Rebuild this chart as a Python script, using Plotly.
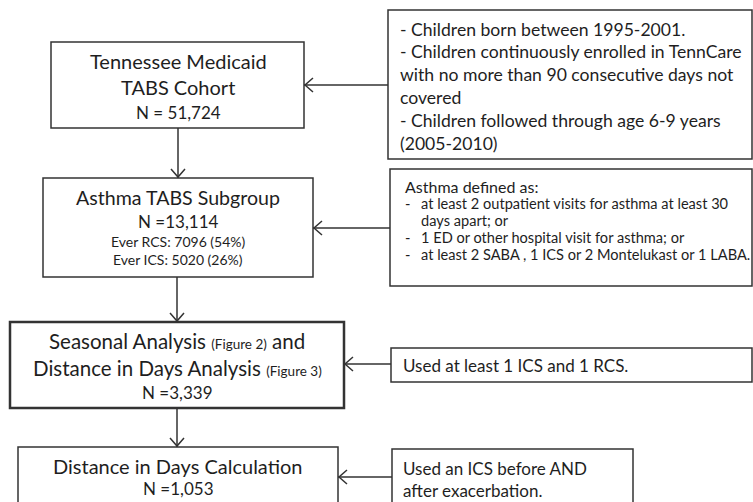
import plotly.graph_objects as go

# ---- content (data) ----
cohort_title = ["Tennessee Medicaid", "TABS Cohort"]
cohort_n = "N = 51,724"
subgroup_title = "Asthma TABS Subgroup"
subgroup_n = "N =13,114"
subgroup_ever = ["Ever RCS: 7096 (54%)", "Ever ICS: 5020 (26%)"]
seasonal_lines = [
    "Seasonal Analysis <span style='font-size:13.5px'>(Figure 2)</span> and",
    "Distance in Days Analysis <span style='font-size:13.5px'>(Figure 3)</span>",
]
seasonal_n = "N =3,339"
distance_title = "Distance in Days Calculation"
distance_n = "N =1,053"

criteria_cohort = [
    "- Children born between 1995-2001.",
    "- Children continuously enrolled in TennCare",
    "with no more than 90 consecutive days not",
    "covered",
    "- Children followed through age 6-9 years",
    "(2005-2010)",
]
asthma_head = "Asthma defined as:"
asthma_bullets = [
    ("-", "at least 2 outpatient visits for asthma at least 30"),
    ("", "days apart; or"),
    ("-", "1 ED or other hospital visit for asthma; or"),
    ("-", "at least 2 SABA , 1 ICS or 2 Montelukast or 1 LABA."),
]
criteria_seasonal = ["Used at least 1 ICS and 1 RCS."]
criteria_distance = ["Used an ICS before AND", "after exacerbation."]

# ---- layout geometry (pixels, y down) ----
W, H = 753, 502
FONT = "Lato, Carlito, Calibri, sans-serif"
TXT = "#1e1e1e"
LN = "#333333"

left_boxes = [
    dict(x0=51, x1=304, y0=42, y1=128, w=1.5),
    dict(x0=43, x1=313, y0=178, y1=277, w=1.5),
    dict(x0=10, x1=344, y0=322, y1=408, w=2.5),
    dict(x0=18, x1=338, y0=447, y1=520, w=1.5),
]
right_boxes = [
    dict(x0=388, x1=752, y0=10, y1=159, ay=85),
    dict(x0=390, x1=752, y0=169, y1=286, ay=228),
    dict(x0=391, x1=752, y0=348, y1=382, ay=364),
    dict(x0=392, x1=633, y0=449, y1=520, ay=477),
]

shapes = []
for b in left_boxes:
    shapes.append(dict(type="rect", x0=b["x0"], x1=b["x1"], y0=b["y0"], y1=b["y1"],
                       line=dict(color=LN, width=b["w"]), fillcolor="white", layer="below"))
for b in right_boxes:
    shapes.append(dict(type="rect", x0=b["x0"], x1=b["x1"], y0=b["y0"], y1=b["y1"],
                       line=dict(color=LN, width=1.5), fillcolor="white", layer="below"))

AH = 7  # arrowhead size


def arrow_left(xs, xe, y):
    shapes.append(dict(type="line", x0=xs, x1=xe, y0=y, y1=y, line=dict(color=LN, width=1.5)))
    shapes.append(dict(type="path", path=f"M {xe+AH+2},{y-AH} L {xe+1},{y} L {xe+AH+2},{y+AH}",
                       line=dict(color=LN, width=1.5)))


def arrow_down(x, ys, ye):
    shapes.append(dict(type="line", x0=x, x1=x, y0=ys, y1=ye, line=dict(color=LN, width=1.5)))
    shapes.append(dict(type="path", path=f"M {x-AH},{ye-AH-2} L {x},{ye-1} L {x+AH},{ye-AH-2}",
                       line=dict(color=LN, width=1.5)))


for lb, rb in zip(left_boxes, right_boxes):
    arrow_left(rb["x0"], lb["x1"], rb["ay"])
for a, b in zip(left_boxes[:-1], left_boxes[1:]):
    arrow_down(178 if a is left_boxes[0] else 177, a["y1"], b["y0"])

annotations = []


def txt(x, y, s, size, anchor="center"):
    annotations.append(dict(x=x, y=y, text=s, showarrow=False, xanchor=anchor, yanchor="middle",
                            font=dict(family=FONT, size=size, color=TXT)))


# left boxes text
txt(178, 61, cohort_title[0], 20)
txt(178, 87, cohort_title[1], 20)
txt(178, 112, cohort_n, 17)

txt(178, 197, subgroup_title, 19.6)
txt(178, 221, subgroup_n, 17)
txt(178, 241, subgroup_ever[0], 14)
txt(178, 259, subgroup_ever[1], 14)

txt(177, 341, seasonal_lines[0], 20.5)
txt(177, 368, seasonal_lines[1], 20.5)
txt(177, 392, seasonal_n, 17)

txt(178, 466, distance_title, 20)
txt(178, 488, distance_n, 17)

# right boxes text
for i, s in enumerate(criteria_cohort):
    txt(398, 29 + i * 22.8, s, 17.6, "left")
txt(403, 186, asthma_head, 16, "left")
for i, (d, s) in enumerate(asthma_bullets):
    y = 203 + i * 17.2
    if d:
        txt(403, y, d, 14.6, "left")
    txt(419, y, s, 14.6, "left")
for s in criteria_seasonal:
    txt(401, 365, s, 17, "left")
for i, s in enumerate(criteria_distance):
    txt(401, 468 + i * 22, s, 17, "left")

fig = go.Figure()
fig.update_layout(
    width=W, height=H, margin=dict(l=0, r=0, t=0, b=0),
    paper_bgcolor="white", plot_bgcolor="white",
    xaxis=dict(range=[0, W], visible=False, fixedrange=True),
    yaxis=dict(range=[H, 0], visible=False, fixedrange=True),
    shapes=shapes, annotations=annotations, showlegend=False,
)
fig.write_html("out.html", config=dict(displayModeBar=False),
               post_script="document.body.style.margin='0';document.body.style.overflow='hidden';")
